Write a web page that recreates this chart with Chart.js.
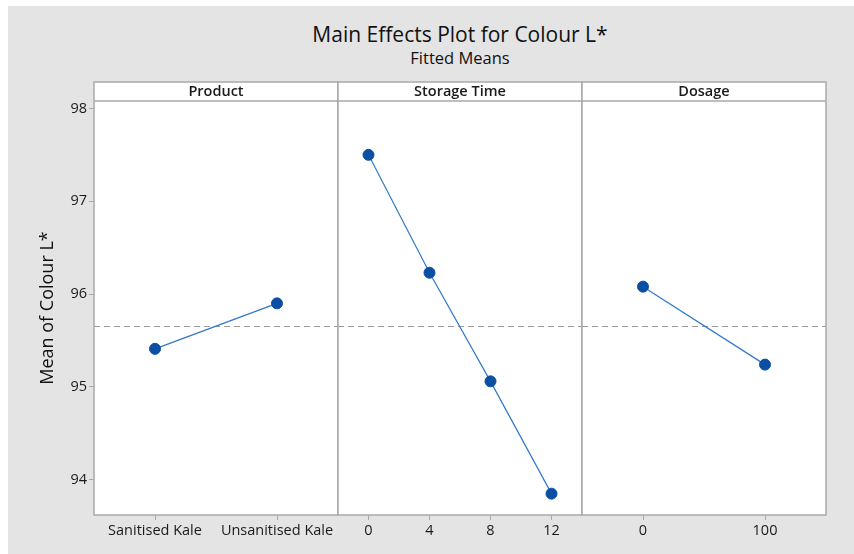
<!DOCTYPE html>
<html>
<head>
<meta charset="utf-8">
<script src="https://cdn.jsdelivr.net/npm/chart.js@4.4.1/dist/chart.umd.min.js"></script>
<style>
  body { margin: 0; background: #fff; width: 854px; height: 554px; overflow: hidden; font-family: "Open Sans", sans-serif; }
  #bg { position: absolute; left: 8px; top: 6px; width: 846px; height: 548px; background: #e4e4e4; }
  canvas { position: absolute; left: 0; top: 0; }
  .title { position: absolute; left: 94px; width: 732px; text-align: center; color: #111; }
  #t1 { top: 20px; font-size: 21px; font-weight: 500; }
  #t2 { top: 46px; font-size: 16.5px; font-weight: 500; }
</style>
</head>
<body>
<div id="bg"></div>
<div class="title" id="t1">Main Effects Plot for Colour L*</div>
<div class="title" id="t2">Fitted Means</div>
<canvas id="c1" width="854" height="554"></canvas>
<canvas id="c2" width="854" height="554"></canvas>
<canvas id="c3" width="854" height="554"></canvas>
<script>
// values
const productLabels = ['Sanitised Kale', 'Unsanitised Kale'];
const productMeans = [95.41, 95.90];
const storageLabels = ['0', '4', '8', '12'];
const storageMeans = [97.50, 96.23, 95.06, 93.85];
const dosageLabels = ['0', '100'];
const dosageMeans = [96.08, 95.24];
const grandMean = 95.66;
const yTicks = [94, 95, 96, 97, 98];
const yMin = 93.62, yMax = 98.08;

const panelHeaders = ['Product', 'Storage Time', 'Dosage'];
const lineColor = '#2f78cc';
const markColor = '#0b4fa3';
const frameColor = '#a9a9a9';
const font = '"Open Sans", sans-serif';

// white plot area, header strip, frame and dashed mean line
const panelPlugin = {
  id: 'panel',
  beforeDraw(chart) {
    const a = chart.chartArea, ctx = chart.ctx;
    ctx.save();
    ctx.fillStyle = '#fff';
    ctx.fillRect(a.left, a.top, a.right - a.left, a.bottom - a.top);
    ctx.restore();
  },
  beforeDatasetsDraw(chart) {
    const a = chart.chartArea, ctx = chart.ctx;
    const y = chart.scales.y.getPixelForValue(grandMean);
    ctx.save();
    ctx.strokeStyle = '#9a9a9a';
    ctx.lineWidth = 1;
    ctx.setLineDash([6, 4]);
    ctx.beginPath();
    ctx.moveTo(a.left, Math.round(y) + 0.5);
    ctx.lineTo(a.right, Math.round(y) + 0.5);
    ctx.stroke();
    ctx.restore();
  },
  afterDraw(chart, args, opts) {
    const a = chart.chartArea, ctx = chart.ctx;
    ctx.save();
    ctx.fillStyle = '#fff';
    ctx.fillRect(a.left, 82, a.right - a.left, a.top - 82);
    ctx.strokeStyle = frameColor;
    ctx.lineWidth = 1.5;
    ctx.strokeRect(a.left, 82, a.right - a.left, a.bottom - 82);
    ctx.beginPath();
    ctx.moveTo(a.left, a.top);
    ctx.lineTo(a.right, a.top);
    ctx.stroke();
    ctx.fillStyle = '#1a1a1a';
    ctx.font = '600 14.5px ' + font;
    ctx.textAlign = 'center';
    ctx.textBaseline = 'middle';
    ctx.fillText(opts.header, (a.left + a.right) / 2, (82 + a.top) / 2 + 0.5);
    ctx.restore();
  }
};

function makeChart(id, labels, values, header, left, right, showY) {
  return new Chart(document.getElementById(id), {
    type: 'line',
    data: {
      labels: labels,
      datasets: [{
        data: values,
        borderColor: lineColor,
        borderWidth: 1.2,
        pointBackgroundColor: markColor,
        pointBorderColor: markColor,
        pointRadius: 5.5,
        pointBorderWidth: 1,
        tension: 0
      }]
    },
    options: {
      responsive: false,
      animation: false,
      events: [],
      layout: { padding: { left: left, right: right, top: 101, bottom: 0 } },
      plugins: {
        legend: { display: false },
        tooltip: { enabled: false },
        panel: { header: header }
      },
      scales: {
        x: {
          type: 'category',
          offset: true,
          grid: { offset: false, drawOnChartArea: false, drawTicks: true, tickLength: 5, color: frameColor },
          border: { display: false },
          ticks: { color: '#1a1a1a', font: { family: font, size: 14.5, weight: 500 }, padding: 2, autoSkip: false, maxRotation: 0 },
          afterFit(scale) { scale.height = 39; }
        },
        y: {
          display: showY,
          min: yMin,
          max: yMax,
          afterBuildTicks(scale) { scale.ticks = yTicks.map(v => ({ value: v })); },
          grid: { drawOnChartArea: false, drawTicks: true, tickLength: 5, color: frameColor },
          border: { display: false },
          ticks: { color: '#1a1a1a', font: { family: font, size: 14.5, weight: 500 }, padding: 2 },
          title: {
            display: true,
            text: 'Mean of Colour L*',
            color: '#111',
            font: { family: font, size: 18, weight: 500 },
            padding: { top: 37, bottom: 0 }
          },
          afterFit(scale) { if (showY) scale.width = 94; }
        }
      }
    },
    plugins: [panelPlugin]
  });
}

makeChart('c1', productLabels, productMeans, panelHeaders[0], 0, 854 - 338, true);
makeChart('c2', storageLabels, storageMeans, panelHeaders[1], 338, 854 - 582, false);
makeChart('c3', dosageLabels, dosageMeans, panelHeaders[2], 582, 854 - 826, false);
</script>
</body>
</html>
